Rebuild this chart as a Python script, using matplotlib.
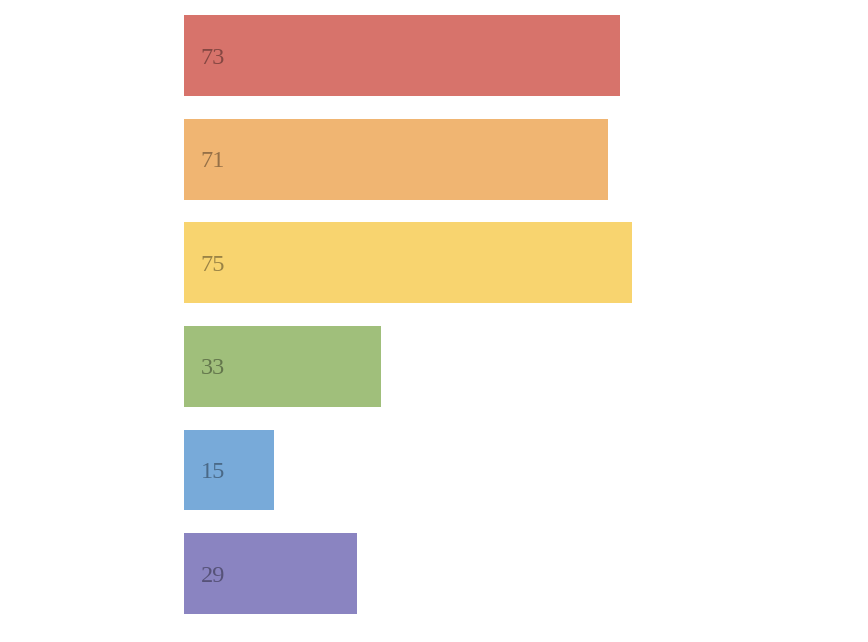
import matplotlib.pyplot as plt
import matplotlib.colors as mcolors

values = [73, 71, 75, 33, 15, 29]
bar_colors = ["#d7736b", "#f0b572", "#f8d46f", "#a0bf7b", "#78aad9", "#8a84c1"]

fig = plt.figure(figsize=(8.68, 6.42), dpi=100)
ax = fig.add_axes([184 / 868, 0.026, 597 / 868, 0.968])

pos = list(range(len(values)))
ax.barh(pos, values, height=0.78, color=bar_colors)

for p, v, c in zip(pos, values, bar_colors):
    r, g, b = mcolors.to_rgb(c)
    dark = (r * 0.62, g * 0.62, b * 0.62)
    ax.text(2.75, p + 0.025, str(v), va="center", ha="left", fontsize=17.5,
            family="Liberation Serif", color=dark)

ax.set_xlim(0, 100)
ax.set_ylim(len(values) - 0.5, -0.5)
ax.axis("off")

fig.savefig("out.png", dpi=100)
